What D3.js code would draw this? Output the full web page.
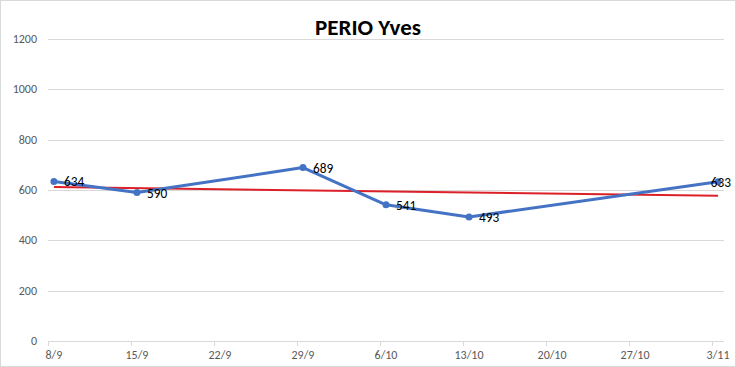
<!DOCTYPE html>
<html>
<head>
<meta charset="utf-8">
<script src="https://cdn.jsdelivr.net/npm/d3@7"></script>
<style>
  html, body { margin: 0; padding: 0; background: #fff; }
  svg { display: block; font-family: Carlito, "Liberation Sans Narrow", "Open Sans", sans-serif; }
</style>
</head>
<body>
<div id="chart"></div>
<script>
// Données
const dates = ['8/9', '15/9', '29/9', '6/10', '13/10', '3/11'];
const dayOffsets = [0, 7, 21, 28, 35, 56]; // jours depuis le 8/9
const values = [634, 590, 689, 541, 493, 633];
const tickLabels = ['8/9', '15/9', '22/9', '29/9', '6/10', '13/10', '20/10', '27/10', '3/11'];
const tickDays = [0, 7, 14, 21, 28, 35, 42, 49, 56];
const yTicks = [0, 200, 400, 600, 800, 1000, 1200];
const title = 'PERIO Yves';

const width = 736, height = 367;
const margin = { top: 39, right: 12, bottom: 26, left: 48 };

const svg = d3.select('#chart').append('svg')
  .attr('width', width)
  .attr('height', height);

svg.append('rect')
  .attr('x', 0.5).attr('y', 0.5)
  .attr('width', width - 1).attr('height', height - 1)
  .attr('fill', '#fff')
  .attr('stroke', '#d9d9d9');

// axe date : chaque jour est une catégorie, le point au milieu du jour
const x = d3.scaleLinear().domain([0, 57]).range([margin.left, width - margin.right]);
const y = d3.scaleLinear().domain([0, 1200]).range([height - margin.bottom, margin.top]);

// grille
svg.append('g')
  .selectAll('line')
  .data(yTicks)
  .enter()
  .append('line')
  .attr('x1', margin.left).attr('x2', width - margin.right)
  .attr('y1', d => Math.round(y(d)) + 0.5).attr('y2', d => Math.round(y(d)) + 0.5)
  .attr('stroke', '#d9d9d9')
  .attr('stroke-width', 1);

// labels axe Y
svg.append('g')
  .selectAll('text')
  .data(yTicks)
  .enter()
  .append('text')
  .attr('x', margin.left - 11)
  .attr('y', d => y(d) + 4)
  .attr('text-anchor', 'end')
  .attr('font-size', '12px')
  .attr('fill', '#595959')
  .text(d => d);

// axe X : graduations + libellés
const xAxis = svg.append('g');
xAxis.selectAll('line')
  .data(tickDays)
  .enter()
  .append('line')
  .attr('x1', d => Math.round(x(d)) + 0.5).attr('x2', d => Math.round(x(d)) + 0.5)
  .attr('y1', y(0)).attr('y2', y(0) + 5)
  .attr('stroke', '#d9d9d9');

xAxis.selectAll('text')
  .data(tickLabels)
  .enter()
  .append('text')
  .attr('x', (d, i) => x(tickDays[i] + 0.5))
  .attr('y', y(0) + 18)
  .attr('text-anchor', 'middle')
  .attr('font-size', '12px')
  .attr('fill', '#595959')
  .text(d => d);

// droite de tendance (régression linéaire)
const mx = d3.mean(dayOffsets), my = d3.mean(values);
const slope = d3.sum(dayOffsets, (d, i) => (d - mx) * (values[i] - my)) /
              d3.sum(dayOffsets, d => (d - mx) * (d - mx));
const intercept = my - slope * mx;
const trendEnds = [dayOffsets[0], dayOffsets[dayOffsets.length - 1]];

svg.append('line')
  .attr('x1', x(trendEnds[0] + 0.5)).attr('y1', y(intercept + slope * trendEnds[0]))
  .attr('x2', x(trendEnds[1] + 0.5)).attr('y2', y(intercept + slope * trendEnds[1]))
  .attr('stroke', '#dc2028')
  .attr('stroke-width', 2);

// série
const pts = values.map((v, i) => ({ day: dayOffsets[i], value: v, label: dates[i] }));

svg.append('path')
  .datum(pts)
  .attr('fill', 'none')
  .attr('stroke', '#4472c4')
  .attr('stroke-width', 3)
  .attr('stroke-linejoin', 'round')
  .attr('d', d3.line().x(d => x(d.day + 0.5)).y(d => y(d.value)));

svg.append('g')
  .selectAll('circle')
  .data(pts)
  .enter()
  .append('circle')
  .attr('cx', d => x(d.day + 0.5))
  .attr('cy', d => y(d.value))
  .attr('r', 3.5)
  .attr('fill', '#4472c4');

// étiquettes de données (décalées à gauche si elles sortent du cadre)
svg.append('g')
  .selectAll('text')
  .data(pts)
  .enter()
  .append('text')
  .attr('y', d => y(d.value) + 5)
  .attr('font-size', '13.3px')
  .attr('fill', '#000')
  .text(d => d.value)
  .attr('x', function(d) {
    const w = this.getComputedTextLength();
    const px = x(d.day + 0.5) + 10;
    return Math.min(px, width - 5 - w);
  });

// titre
svg.append('text')
  .attr('x', width / 2)
  .attr('y', 35)
  .attr('text-anchor', 'middle')
  .attr('font-size', '23px')
  .attr('font-weight', 'bold')
  .attr('fill', '#000')
  .text(title);
</script>
</body>
</html>
